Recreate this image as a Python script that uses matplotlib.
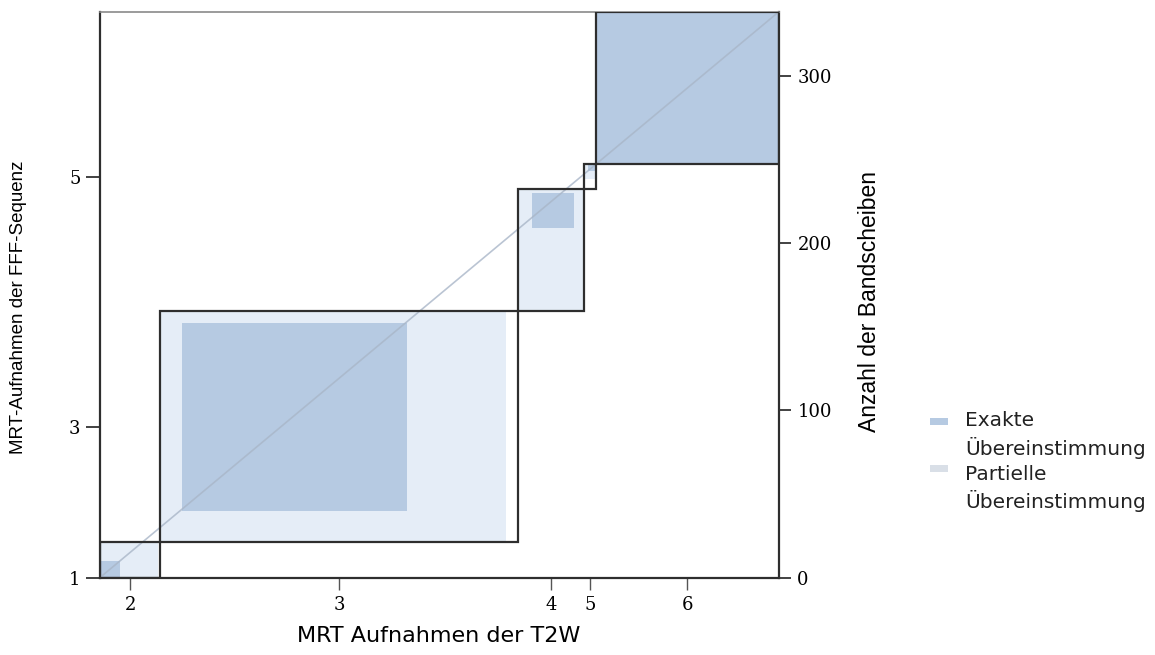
import matplotlib.pyplot as plt
from matplotlib.patches import Rectangle
import numpy as np

# Kategorien der Bewertung (T2W = Spalten / x, FFF = Zeilen / y)
categories = ["2", "3", "4", "5", "6"]
# Kreuztabelle: Zeilen = FFF-Sequenz, Spalten = T2W
table = np.array([
    [10,  11,  0, 0,  0],
    [19, 112,  7, 0,  0],
    [ 1,  49, 21, 2,  0],
    [ 0,   6,  5, 4,  0],
    [ 0,   0,  0, 0, 91],
])
y_labels = ["1", "3", "5"]
right_ticks = [0, 100, 200, 300]
legend_labels = [("Exakte", "Übereinstimmung"), ("Partielle", "Übereinstimmung")]

dark = '#b6cae2'
light = '#e5edf7'
edge = '#2e2e2e'

col_tot = table.sum(axis=0)
row_tot = table.sum(axis=1)
N = table.sum()
k = len(categories)
x0 = np.concatenate([[0], np.cumsum(col_tot)[:-1]])
y0 = np.concatenate([[0], np.cumsum(row_tot)[:-1]])

fig = plt.figure(figsize=(11.55, 6.55), dpi=100)
ax = fig.add_axes([0.0866, 0.1183, 0.5875, 0.8634])

for i in range(k):
    lo = max(0, i - 1)
    hi = min(k - 1, i + 1)
    # partielle Uebereinstimmung
    xs = x0[i] + table[:lo, i].sum()
    ys = y0[i] + table[i, :lo].sum()
    ax.add_patch(Rectangle((xs, ys), table[lo:hi + 1, i].sum(), table[i, lo:hi + 1].sum(),
                           facecolor=light, edgecolor='none', zorder=1))
    # exakte Uebereinstimmung
    xs = x0[i] + table[:i, i].sum()
    ys = y0[i] + table[i, :i].sum()
    ax.add_patch(Rectangle((xs, ys), table[i, i], table[i, i],
                           facecolor=dark, edgecolor='none', zorder=2))

ax.plot([0, N], [0, N], color='#a9b6c8', lw=1.2, alpha=0.8, zorder=3)

for i in range(k):
    ax.add_patch(Rectangle((x0[i], y0[i]), col_tot[i], row_tot[i],
                           fill=False, edgecolor=edge, lw=1.6, zorder=4))

ax.set_xlim(0, N)
ax.set_ylim(0, N)

ax.set_xticks(x0 + col_tot / 2)
ax.set_xticklabels(categories, family='DejaVu Serif', fontsize=13)
y_pos = [0, y0[1] + row_tot[1] / 2, y0[3] + row_tot[3] / 2]
ax.set_yticks(y_pos)
ax.set_yticklabels(y_labels, family='DejaVu Serif', fontsize=13)
ax.tick_params(axis='x', length=8.5, width=1.0, color='#555555', pad=5)
ax.tick_params(axis='y', length=10, width=1.3, color='#333333', pad=4)

for s in ['left', 'bottom', 'right']:
    ax.spines[s].set_color(edge)
    ax.spines[s].set_linewidth(1.6)
ax.spines['top'].set_color('#8a8a8a')
ax.spines['top'].set_linewidth(1.2)

ax2 = ax.twinx()
ax2.set_ylim(0, N)
ax2.set_yticks(right_ticks)
ax2.set_yticklabels([str(t) for t in right_ticks], family='DejaVu Serif', fontsize=13)
ax2.tick_params(axis='y', length=8.5, width=1.3, color='#333333', pad=5)
for s in ax2.spines.values():
    s.set_visible(False)

fig.text(0.38, 0.029, 'MRT Aufnahmen der T2W', ha='center', va='center',
         family='DejaVu Sans', fontsize=16)
fig.text(0.0156, 0.531, 'MRT-Aufnahmen der FFF-Sequenz', ha='center', va='center',
         rotation=90, family='Liberation Sans', fontsize=13.5)
fig.text(0.753, 0.539, 'Anzahl der Bandscheiben', ha='center', va='center',
         rotation=90, family='Liberation Sans', fontsize=16.5)

# Legende
W, H = 1155, 655
swatches = [dark, '#d9dfe7']
for j, (l1, l2) in enumerate(legend_labels):
    top = 421 + j * 53
    fig.add_artist(Rectangle((930 / W, 1 - (top + 4 - 6 * j) / H), 18 / W, 7 / H,
                             transform=fig.transFigure, facecolor=swatches[j],
                             edgecolor='none'))
    fig.text(965 / W, 1 - top / H, l1, ha='left', va='center',
             family='DejaVu Sans', fontsize=14.5, color='#222222')
    fig.text(965 / W, 1 - (top + 27) / H, l2, ha='left', va='center',
             family='DejaVu Sans', fontsize=14.5, color='#222222')

fig.savefig('out.png', dpi=100)
